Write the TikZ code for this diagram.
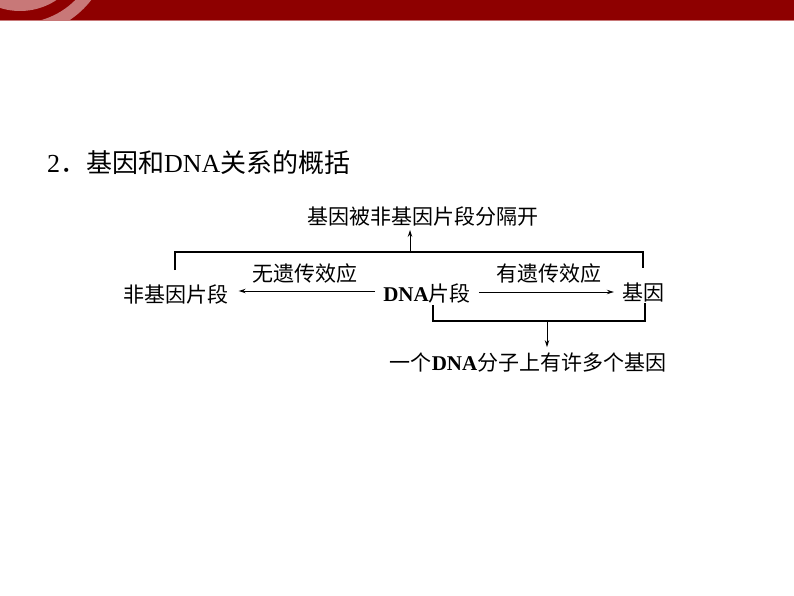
\documentclass[tikz,border=0pt]{standalone}
\usepackage{fontspec}
\setmainfont{Liberation Serif}
\newfontfamily\cjk{Noto Sans CJK SC}
\usetikzlibrary{arrows.meta}
\definecolor{bannerred}{HTML}{8E0000}
\definecolor{bannerpink}{HTML}{C87878}
\tikzset{
  lbl/.style={inner sep=0pt, font=\fontsize{21}{21}\selectfont},
  bracket/.style={line width=1.6pt},
  arr/.style={line width=0.9pt, -{Stealth[length=7pt,width=4.5pt]}},
}
\begin{document}
\begin{tikzpicture}[x=1pt,y=-1pt]
\useasboundingbox (0,0) rectangle (794,596);
\fill[white] (0,0) rectangle (794,596);
% banner
\begin{scope}
\clip (0,0) rectangle (794,20);
\fill[bannerred] (0,0) rectangle (794,20);
\fill[bannerpink] (20,-55) circle (66);
\draw[bannerpink, line width=12pt] (20,-55) circle (84);
\end{scope}
\draw[bannerpink, line width=1pt] (0,21) -- (794,21);
% title
\node[anchor=west, inner sep=0pt, font=\fontsize{26}{26}\selectfont] (title) at (47,163) {2{\cjk ．}{\cjk 基因和}DNA{\cjk 关系的概括}};
% diagram nodes
\node[lbl] (top) at (423,216) {\cjk 基因被非基因片段分隔开};
\node[lbl] (non) at (176,294) {\cjk 非基因片段};
\node[lbl] (dna) at (427,293) {\textbf{DNA}\cjk 片段};
\node[lbl] (gene) at (643,293) {\cjk 基因};
\node[lbl] (bot) at (528,363) {{\cjk 一个}\textbf{DNA}{\cjk 分子上有许多个基因}};
\node[lbl] (noeff) at (305,274) {\cjk 无遗传效应};
\node[lbl] (eff) at (549,274) {\cjk 有遗传效应};
% coordinates
\coordinate (tl) at (175,252);
\coordinate (tr) at (643,252);
\coordinate (tm) at (410,252);
\coordinate (bl) at (433,321);
\coordinate (br) at (645,321);
\coordinate (bm) at (547,321);
% arrows
\draw[arr] ([xshift=-8pt]dna.west |- 0,291) -- ([xshift=10pt]non.east |- 0,291);
\draw[arr] ([xshift=8pt]dna.east |- 0,292) -- ([xshift=-8pt]gene.west |- 0,292);
% brackets
\draw[bracket] ([yshift=14pt]non.north -| tl) -- (tl) -- (tr) -- ([yshift=15pt]gene.north -| tr);
\draw[arr] (tm) -- ([yshift=-4pt]top.south -| tm);
\draw[bracket] ([yshift=-2pt]dna.south -| bl) -- (bl) -- (br) -- ([yshift=0pt]gene.south -| br);
\draw[arr] (bm) -- ([yshift=6pt]bot.north -| bm);
\end{tikzpicture}
\end{document}
